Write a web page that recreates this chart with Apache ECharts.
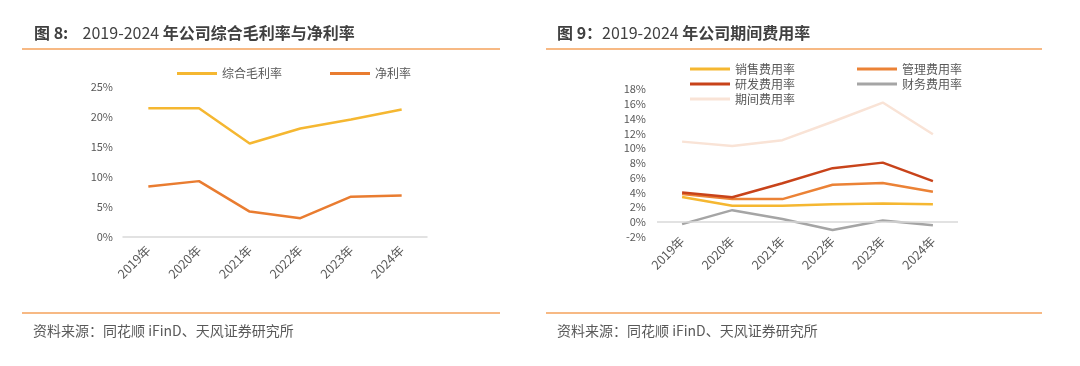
<!DOCTYPE html>
<html><head><meta charset="utf-8">
<script src="https://cdn.jsdelivr.net/npm/echarts@6/dist/echarts.min.js"></script>
<style>html,body{margin:0;padding:0;background:#fff}#c{width:1080px;height:366px}</style>
</head><body><div id="c"></div>
<script>
var years = ['2019年','2020年','2021年','2022年','2023年','2024年'];
var grossMargin = [21.5, 21.5, 15.6, 18.1, 19.6, 21.3];
var netMargin = [8.4, 9.3, 4.2, 3.1, 6.7, 6.9];
var salesRate = [3.4, 2.2, 2.2, 2.4, 2.5, 2.4];
var adminRate = [3.8, 3.1, 3.1, 5.05, 5.3, 4.1];
var rdRate = [4.0, 3.35, 5.25, 7.3, 8.05, 5.55];
var finRate = [-0.3, 1.6, 0.4, -1.1, 0.2, -0.45];
var periodRate = [10.9, 10.3, 11.1, 13.6, 16.2, 11.9];
var leftTicks = {min: 0, max: 25, interval: 5};
var rightTicks = {min: -2, max: 18, interval: 2};

var chart = echarts.init(document.getElementById('c'));
var FONT = '"Noto Sans CJK SC","Noto Sans",sans-serif';
var lab = {color:'#595959', fontSize:11, fontFamily:FONT};
var xlab = {color:'#595959', fontSize:12.5, fontFamily:FONT};
var orange = '#F4A25B';
function titleRich(a,b,c){
  return {text:'{b|'+a+'}{n|'+b+'}{b|'+c+'}', textStyle:{rich:{
    b:{fontSize:16,fontWeight:'bold',color:'#404040',fontFamily:FONT},
    n:{fontSize:16,fontWeight:'normal',color:'#404040',fontFamily:FONT}}}};
}
var t1 = titleRich('图 8:','    2019-2024 ','年公司综合毛利率与净利率');
t1.left = 29; t1.top = 20;
var t2 = titleRich('图 9：','2019-2024 ','年公司期间费用率');
t2.left = 552; t2.top = 20;
var foot = {fontSize:14,color:'#595959',fontWeight:'normal',fontFamily:FONT};
var legText = {color:'#595959',fontSize:12,lineHeight:12,fontFamily:FONT};
chart.setOption({
  animation:false,
  title:[t1,t2,
    {text:'资料来源：同花顺 iFinD、天风证券研究所', left:28, top:319, textStyle:foot},
    {text:'资料来源：同花顺 iFinD、天风证券研究所', left:552, top:319, textStyle:foot}],
  graphic:[
    {type:'line',shape:{x1:22,y1:49,x2:500,y2:49},style:{stroke:orange,lineWidth:1.5}},
    {type:'line',shape:{x1:546,y1:49,x2:1042,y2:49},style:{stroke:orange,lineWidth:1.5}},
    {type:'line',shape:{x1:22,y1:313,x2:500,y2:313},style:{stroke:orange,lineWidth:1.5}},
    {type:'line',shape:{x1:546,y1:313,x2:1042,y2:313},style:{stroke:orange,lineWidth:1.5}}
  ],
  legend:[
    {left:172, top:62.5, icon:'rect', itemWidth:40, itemHeight:3, itemGap:48, data:['综合毛利率','净利率'],
     textStyle:legText},
    {left:685, top:58, orient:'vertical', icon:'rect', itemWidth:40, itemHeight:3, itemGap:3, data:['销售费用率','研发费用率','期间费用率'],
     textStyle:legText},
    {left:852, top:58, orient:'vertical', icon:'rect', itemWidth:40, itemHeight:3, itemGap:3, data:['管理费用率','财务费用率'],
     textStyle:legText}
  ],
  grid:[
    {left:123, right:653, top:87.3, bottom:129.3},
    {left:657, right:122, top:89.3, bottom:129.3}
  ],
  xAxis:[
    {gridIndex:0, type:'category', data:years, boundaryGap:true,
     axisLine:{lineStyle:{color:'#D9D9D9',width:1.5}}, axisTick:{show:false},
     axisLabel:Object.assign({rotate:45, margin:11}, xlab)},
    {gridIndex:1, type:'category', data:years, boundaryGap:true,
     axisLine:{show:false, onZero:false}, axisTick:{show:false},
     axisLabel:Object.assign({rotate:45, margin:2}, xlab)}
  ],
  yAxis:[
    {gridIndex:0, type:'value', min:leftTicks.min, max:leftTicks.max, interval:leftTicks.interval,
     splitLine:{show:false}, axisLine:{show:false}, axisTick:{show:false},
     axisLabel:Object.assign({formatter:'{value}%', margin:10}, lab)},
    {gridIndex:1, type:'value', min:rightTicks.min, max:rightTicks.max, interval:rightTicks.interval,
     splitLine:{show:false}, axisLine:{show:false}, axisTick:{show:false},
     axisLabel:Object.assign({formatter:'{value}%', margin:11}, lab)}
  ],
  series:[
    {name:'综合毛利率', type:'line', xAxisIndex:0, yAxisIndex:0, data:grossMargin, symbol:'none',
     lineStyle:{width:2.5,color:'#F5B731'}, itemStyle:{color:'#F5B731'}},
    {name:'净利率', type:'line', xAxisIndex:0, yAxisIndex:0, data:netMargin, symbol:'none',
     lineStyle:{width:2.5,color:'#E97C30'}, itemStyle:{color:'#E97C30'}},
    {name:'期间费用率', type:'line', xAxisIndex:1, yAxisIndex:1, data:periodRate, symbol:'none',
     lineStyle:{width:2.5,color:'#F9E3D6'}, itemStyle:{color:'#F9E3D6'},
     markLine:{silent:true, symbol:'none', label:{show:false},
       lineStyle:{color:'#D9D9D9', type:'solid', width:1.5}, data:[{yAxis:0}]}},
    {name:'财务费用率', type:'line', xAxisIndex:1, yAxisIndex:1, data:finRate, symbol:'none',
     lineStyle:{width:2.5,color:'#A5A5A5'}, itemStyle:{color:'#A5A5A5'}},
    {name:'销售费用率', type:'line', xAxisIndex:1, yAxisIndex:1, data:salesRate, symbol:'none',
     lineStyle:{width:2.5,color:'#F5B731'}, itemStyle:{color:'#F5B731'}},
    {name:'管理费用率', type:'line', xAxisIndex:1, yAxisIndex:1, data:adminRate, symbol:'none',
     lineStyle:{width:2.5,color:'#EB8236'}, itemStyle:{color:'#EB8236'}},
    {name:'研发费用率', type:'line', xAxisIndex:1, yAxisIndex:1, data:rdRate, symbol:'none',
     lineStyle:{width:2.5,color:'#C8431A'}, itemStyle:{color:'#C8431A'}}
  ]
});
</script></body></html>
